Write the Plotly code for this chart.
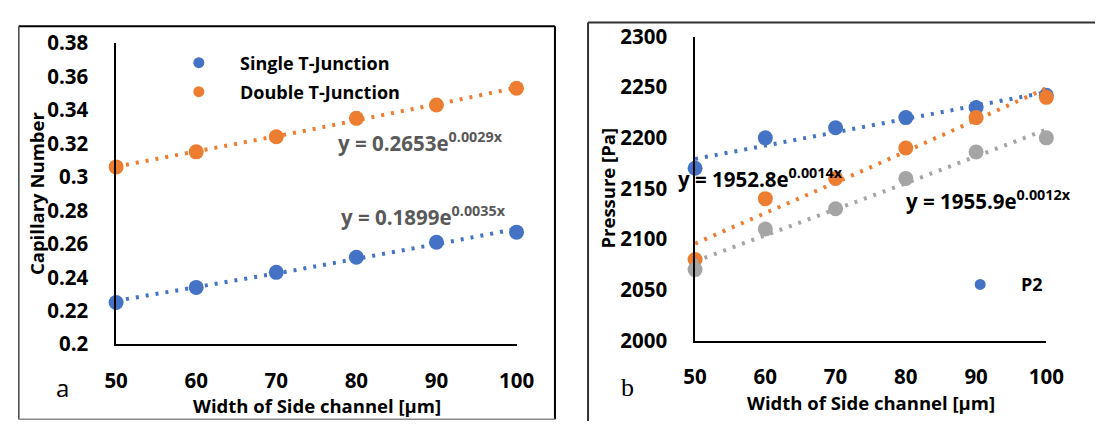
import numpy as np
import plotly.graph_objects as go

W, H = 1113, 434

# ---------------- data ----------------
width_um = [50, 60, 70, 80, 90, 100]
ca_single = [0.225, 0.234, 0.243, 0.252, 0.261, 0.267]
ca_double = [0.306, 0.315, 0.324, 0.335, 0.343, 0.353]

p_blue = [2170, 2200, 2210, 2220, 2230, 2242]
p_orange = [2080, 2140, 2160, 2190, 2220, 2240]
p_gray = [2070, 2110, 2130, 2160, 2186, 2200]

ca_ticks = [0.2, 0.22, 0.24, 0.26, 0.28, 0.3, 0.32, 0.34, 0.36, 0.38]
ca_ticktext = ["0.2", "0.22", "0.24", "0.26", "0.28", "0.3", "0.32", "0.34", "0.36", "0.38"]
p_ticks = [2000, 2050, 2100, 2150, 2200, 2250, 2300]
x_ticks = [50, 60, 70, 80, 90, 100]

eq_single = "y = 0.1899e<sup>0.0035x</sup>"
eq_double = "y = 0.2653e<sup>0.0029x</sup>"
eq_orange = "y = 1952.8e<sup>0.0014x</sup>"
eq_gray = "y = 1955.9e<sup>0.0012x</sup>"

BLUE, ORANGE, GRAY = "#4472C4", "#ED7D31", "#A5A5A5"
FONT = "Open Sans"


def px(x):
    return x / W


def py(y):
    return 1 - y / H


def bold(t):
    return "<b>" + t + "</b>"


def expfit(x, y):
    b, ln_a = np.polyfit(np.array(x, float), np.log(np.array(y, float)), 1)
    xs = np.linspace(min(x), max(x), 60)
    return xs, np.exp(ln_a) * np.exp(b * xs)


fig = go.Figure()

def add_series(x, y, color, name, xa, ya):
    xs, ys = expfit(x, y)
    fig.add_trace(go.Scatter(x=xs, y=ys, mode="lines", xaxis=xa, yaxis=ya,
                             line=dict(color=color, width=4, dash="3px,7px"),
                             showlegend=False, hoverinfo="skip"))
    fig.add_trace(go.Scatter(x=x, y=y, mode="markers", xaxis=xa, yaxis=ya, name=name,
                             marker=dict(color=color, size=15), showlegend=False,
                             cliponaxis=False))

add_series(width_um, ca_single, BLUE, "Single T-Junction", "x", "y")
add_series(width_um, ca_double, ORANGE, "Double T-Junction", "x", "y")
add_series(width_um, p_blue, BLUE, "P2", "x2", "y2")
add_series(width_um, p_orange, ORANGE, "P1", "x2", "y2")
add_series(width_um, p_gray, GRAY, "P3", "x2", "y2")

tickfont = dict(family=FONT, size=20.5, color="black")
titlefont = dict(family=FONT, size=18.5, color="black")

xaxis_common = dict(range=[50, 100], tickvals=x_ticks, ticktext=[bold(str(v)) for v in x_ticks],
                    showgrid=False, zeroline=False,
                    showline=True, linecolor="black", linewidth=1.5, ticks="",
                    tickfont=tickfont, ticklabelstandoff=17)
yaxis_common = dict(showgrid=False, zeroline=False, showline=True, linecolor="black",
                    linewidth=1.5, ticks="", tickfont=tickfont, ticklabelstandoff=22)

fig.update_layout(
    width=W, height=H, margin=dict(l=0, r=0, t=0, b=0),
    paper_bgcolor="white", plot_bgcolor="white", showlegend=False,
    xaxis=dict(domain=[px(107), px(518.5)], anchor="y", **xaxis_common),
    yaxis=dict(domain=[py(352), py(30)], anchor="x", range=[0.2, 0.38],
               tickvals=ca_ticks, ticktext=[bold(t) for t in ca_ticktext], **yaxis_common),
    xaxis2=dict(domain=[px(702), px(1063)], anchor="y2", **xaxis_common),
    yaxis2=dict(domain=[py(348), py(23)], anchor="x2", range=[2000, 2300],
                tickvals=p_ticks, ticktext=[bold(str(v)) for v in p_ticks], **yaxis_common),
)

shapes = [
    # panel frames
    dict(type="line", xref="paper", yref="paper", x0=px(7), x1=px(558), y0=py(12), y1=py(12),
         line=dict(color="black", width=2)),
    dict(type="line", xref="paper", yref="paper", x0=px(558), x1=px(558), y0=py(12), y1=py(432),
         line=dict(color="black", width=2)),
    dict(type="line", xref="paper", yref="paper", x0=px(7), x1=px(7), y0=py(12), y1=py(432),
         line=dict(color="#444444", width=1.5)),
    dict(type="line", xref="paper", yref="paper", x0=px(7), x1=px(558), y0=py(432), y1=py(432),
         line=dict(color="#888888", width=1.5)),
    dict(type="line", xref="paper", yref="paper", x0=px(592), x1=px(1113), y0=py(8), y1=py(8),
         line=dict(color="#333333", width=2)),
    dict(type="line", xref="paper", yref="paper", x0=px(592), x1=px(592), y0=py(8), y1=py(434),
         line=dict(color="#333333", width=2)),
]

# manual legend markers
legend_items = [
    (192, 51, BLUE, "Single T-Junction"),
    (192, 82, ORANGE, "Double T-Junction"),
    (995, 288, BLUE, "P2"),
]
annotations = []
for lx, ly, col, txt in legend_items:
    shapes.append(dict(type="circle", xref="paper", yref="paper", xsizemode="pixel",
                       ysizemode="pixel", xanchor=px(lx), yanchor=py(ly),
                       x0=-5.5, x1=5.5, y0=-5.5, y1=5.5,
                       fillcolor=col, line=dict(width=0)))
    annotations.append(dict(xref="paper", yref="paper", x=px(lx + 40), y=py(ly),
                            xanchor="left", yanchor="middle", text=bold(txt), showarrow=False,
                            font=dict(family=FONT, size=18, color="black")))

eqfont_l = dict(family=FONT, size=20.5, color="#595959")
eqfont_r = dict(family=FONT, size=20.5, color="black")
for x0, yc, txt, f in [(333, 136, eq_double, eqfont_l), (336, 215, eq_single, eqfont_l),
                      (682, 174, eq_orange, eqfont_r), (917, 198, eq_gray, eqfont_r)]:
    annotations.append(dict(xref="paper", yref="paper", x=px(x0), y=py(yc), xanchor="left",
                            yanchor="middle", text=bold(txt), showarrow=False, font=f))

# axis titles
annotations += [
    dict(xref="paper", yref="paper", x=px(25), y=py(190), text=bold("Capillary Number"),
         textangle=-90, showarrow=False, xanchor="center", yanchor="middle", font=titlefont),
    dict(xref="paper", yref="paper", x=px(612), y=py(185), text=bold("Pressure [Pa]"),
         textangle=-90, showarrow=False, xanchor="center", yanchor="middle", font=titlefont),
    dict(xref="paper", yref="paper", x=px(313), y=py(417), text=bold("Width of Side channel [µm]"),
         showarrow=False, xanchor="center", yanchor="middle", font=titlefont),
    dict(xref="paper", yref="paper", x=px(883), y=py(414), text=bold("Width of Side channel [µm]"),
         showarrow=False, xanchor="center", yanchor="middle", font=titlefont),
    dict(xref="paper", yref="paper", x=px(52), y=py(398), text="a", showarrow=False,
         xanchor="center", yanchor="middle",
         font=dict(family="Open Sans", size=24, color="black")),
    dict(xref="paper", yref="paper", x=px(633), y=py(398), text="b", showarrow=False,
         xanchor="center", yanchor="middle",
         font=dict(family="Liberation Serif", size=26, color="black")),
]

fig.update_layout(shapes=shapes, annotations=annotations)
fig.write_html("out.html",
               post_script="document.body.style.margin='0';document.body.style.padding='0';")
